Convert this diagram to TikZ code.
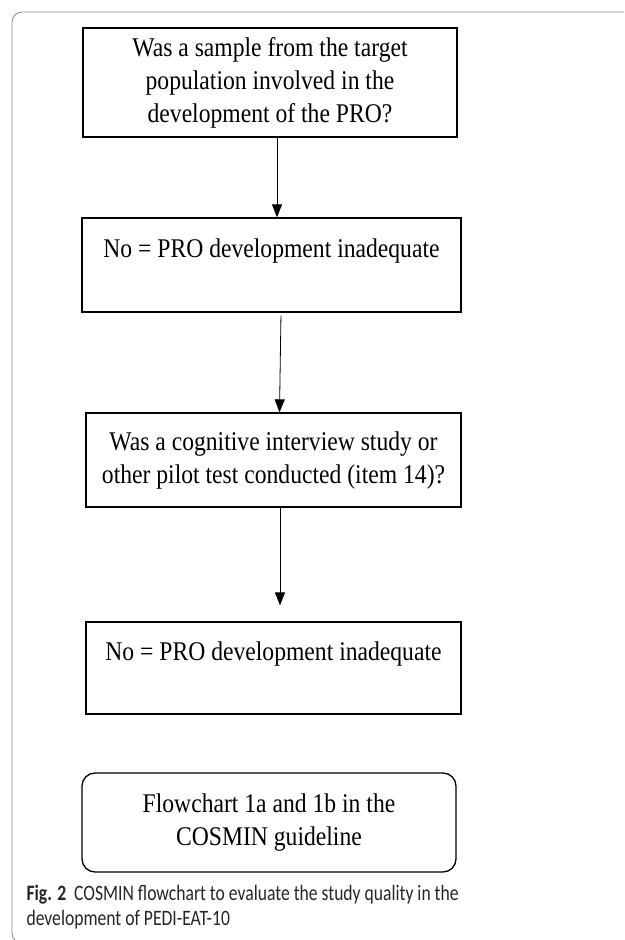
\documentclass[tikz,border=0pt]{standalone}
\usepackage{fontspec}
\setmainfont{Liberation Serif}
\newfontfamily\boxfont[FakeStretch=0.875]{Liberation Serif}
\newfontfamily\capfont[FakeStretch=0.8]{Carlito}
\usetikzlibrary{arrows.meta}
\tikzset{
  flow box/.style={draw,line width=1.3pt,align=center,inner sep=0pt,
    font=\boxfont\fontsize{27}{33}\selectfont},
  flow end/.style={flow box,rounded corners=13pt},
  flow arrow/.style={line width=.8pt,-{Triangle[length=13pt,width=10pt]}},
  page frame/.style={draw=gray!90,line width=.9pt,rounded corners=10pt}
}

\begin{document}
\begin{tikzpicture}[x=1pt,y=-1pt]
  \useasboundingbox (0,0) rectangle (624,940);
  \begin{scope}
    \clip (0,0) rectangle (624,940);
    \draw[page frame] (12,12) rectangle (660,943);
  \end{scope}
  \node[flow box,minimum width=374pt,minimum height=109pt] (sample) at (270,82.5)
    {Was a sample from the target\\population involved in the\\development of the PRO?};
  \node[flow box,minimum width=379pt,minimum height=94pt] (noA) at (271.5,265)
    {No = PRO development inadequate\\~};
  \node[flow box,minimum width=375pt,minimum height=94pt] (pilot) at (273.5,460)
    {Was a cognitive interview study or\\other pilot test conducted (item 14)?};
  \node[flow box,minimum width=375pt,minimum height=92pt] (noB) at (273.5,668)
    {No = PRO development inadequate\\~};
  \node[flow end,minimum width=374pt,minimum height=99pt] (guide) at (269,822.5)
    {Flowchart 1a and 1b in the\\COSMIN guideline};
  \draw[flow arrow] ([xshift=7pt]sample.south) -- ([xshift=5.5pt]noA.north);
  \draw[flow arrow,shorten <=3pt] ([xshift=9.5pt]noA.south) -- ([xshift=6pt]pilot.north);
  \draw[flow arrow,shorten >=16pt] ([xshift=6.5pt]pilot.south) -- ([xshift=6.5pt]noB.north);
  \node[anchor=base west,align=left,text=black!85,
    font=\capfont\fontsize{22}{25}\selectfont] (caption) at (23,925)
    {\textbf{Fig. 2}\ \ COSMIN flowchart to evaluate the study quality in the\\development of PEDI-EAT-10};
\end{tikzpicture}
\end{document}
